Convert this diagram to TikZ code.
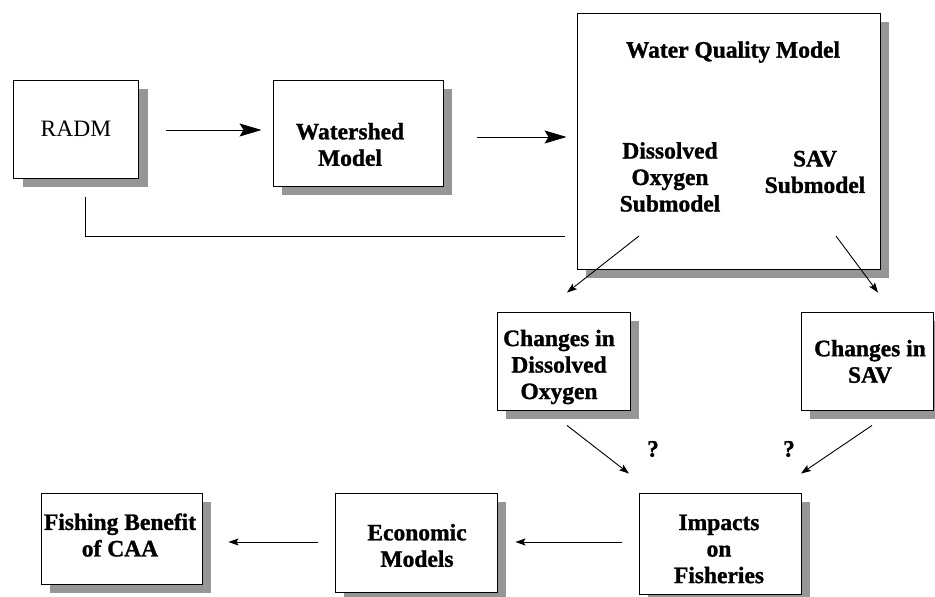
\documentclass[tikz,border=0pt]{standalone}
\usepackage{fontspec}
\setmainfont{Liberation Serif}[BoldFeatures={FakeBold=1.2}]
\usetikzlibrary{calc,shadows,arrows.meta}

\definecolor{shadowgray}{RGB}{150,150,150}

\tikzset{
  blk/.style={draw, fill=white, line width=0.9pt, inner sep=0,
    drop shadow={shadow xshift=9pt, shadow yshift=-9pt, fill=shadowgray, opacity=1}},
  lbl/.style={font=\fontsize{23.5}{26.5}\selectfont\bfseries, align=center, inner sep=0},
  bigarrow/.style={line width=0.9pt, -{Stealth[length=22pt,width=13pt,inset=4pt]}},
  smallarrow/.style={line width=0.9pt, -{Stealth[length=10pt,width=7pt,inset=2pt]}},
  plain/.style={line width=0.9pt}
}

\begin{document}
\begin{tikzpicture}[x=1pt,y=1pt]
\useasboundingbox (0,0) rectangle (935,597);

% top row
\node[blk, minimum width=125, minimum height=98] (radm) at (76,468) {};
\node[lbl, font=\fontsize{23.5}{26.5}\selectfont] at (radm) {RADM};

\node[blk, minimum width=170, minimum height=106] (shed) at (358,464) {};
\node[lbl] (shedtxt) at (350,452.5) {Watershed\\Model};

\node[blk, minimum width=303, minimum height=256] (wqm) at (728.5,456) {};
\node[lbl] (wqmtitle) at (733,545) {Water Quality Model};
\node[lbl] (dosub) at (670,420) {Dissolved\\Oxygen\\Submodel};
\node[lbl] (savsub) at (815,425) {SAV\\Submodel};

% middle row
\node[blk, minimum width=133, minimum height=98] (dochg) at (563.5,236) {};
\node[lbl] at (559,230) {Changes in\\Dissolved\\Oxygen};

\node[blk, minimum width=132, minimum height=98] (savchg) at (867,236) {};
\node[lbl] at (870,235.5) {Changes in\\SAV};

% bottom row
\node[blk, minimum width=162, minimum height=101] (impact) at (720,53.5) {};
\node[lbl] at (719,48) {Impacts\\on\\Fisheries};

\node[blk, minimum width=162, minimum height=99] (econ) at (416,54.5) {};
\node[lbl] at (417,51.5) {Economic\\Models};

\node[blk, minimum width=161, minimum height=91] (fish) at (121.5,58.5) {};
\node[lbl] at (120,62) {Fishing Benefit\\of CAA};

\draw[bigarrow] ($ (radm.east) + (27,-1) $) -- ($ (shed.west) + (-11,3) $);
\draw[bigarrow] ($ (shed.east) + (34,-4) $) -- ($ (wqm.west) + (-10,4) $);
\draw[plain] ($ (radm.south) + (9,-19) $) |- ($ (wqm.west) + (-12,-95) $);

\draw[smallarrow] ($ (dosub) + (-31,-59) $) -- ($ (dochg.north) + (3.5,19) $);
\draw[smallarrow] ($ (savsub) + (21,-64) $) -- ($ (savchg.north) + (11,19) $);

\draw[smallarrow] ($ (dochg.south) + (3.5,-15) $) -- ($ (impact.north) + (-91,19) $);
\draw[smallarrow] ($ (savchg.south) + (5,-15) $) -- ($ (impact.north) + (81,19) $);
\node[lbl] (qdo) at (653,148) {?};
\node[lbl] (qsav) at (789,148) {?};

\draw[smallarrow] ($ (impact.west) + (-17,1.5) $) -- ($ (econ.east) + (18,0.5) $);
\draw[smallarrow] ($ (econ.west) + (-17,0.5) $) -- ($ (fish.east) + (26,-3.5) $);

\end{tikzpicture}
\end{document}
